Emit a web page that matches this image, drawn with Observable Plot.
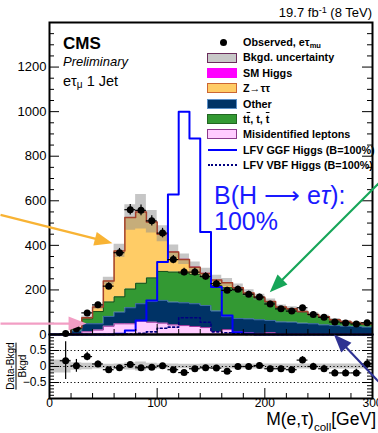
<!DOCTYPE html>
<html><head><meta charset="utf-8">
<script src="https://cdn.jsdelivr.net/npm/d3@7"></script>
<script src="https://cdn.jsdelivr.net/npm/@observablehq/plot@0.6"></script>
<style>
html,body{margin:0;padding:0;background:#fff;}
#wrap{position:relative;width:378px;height:433px;overflow:hidden;font-family:"Liberation Sans",Arial,Helvetica,sans-serif;color:#000;}
#wrap svg{position:absolute;left:0;overflow:visible;background:transparent;}
.t{position:absolute;white-space:nowrap;line-height:1;}
.ov{text-decoration:overline;}
sub.s{font-size:0.7em;position:relative;top:0.25em;line-height:0;vertical-align:baseline;}
sup.s{font-size:0.7em;position:relative;top:-0.45em;line-height:0;vertical-align:baseline;}
.sw{position:absolute;box-sizing:border-box;}
</style></head><body><div id="wrap"></div>
<script>
// ---------------- data ----------------
const binLow = [0,10,20,30,40,50,60,70,80,90,100,110,120,130,140,150,160,170,180,190,200,210,220,230,240,250,260,270,280,290];
const binWidth = 10;
const observed = [null,4,26,97,133,217,367,560,557,510,455,336,280,280,261,228,198,203,181,168,137,115,105,120,90,77,56,52,47,53];
const misid   = [0,0.5,4,12,20,37,48,48,60,55,51,43,40,36,31,13,22,13,7,5,8,4,3,3,3,2,2,2,2,2];
const other   = [0.3,1.5,12,36,28,44,52,72,78,93,102,102,102,102,99,92,58,59,63,61,55,52,52,47,45,41,38,35,34,31];
const ttbar   = [0.2,1,12,22,55,65,69,84,92,106,130,135,133,132,128,115,130,126,110,98,83,65,58,51,40,35,24,19,14,13];
const ztautau = [0,0.5,2,5,20,94,206,321,320,251,167,90,61,32,16,25,22,12,6,3,2,2,2,2,2,2,2,2,2,1];
const smHiggs = [0,0,0,0,0,0,0,0,1,1,2,2,2,2,1,1,1,0,0,0,0,0,0,0,0,0,0,0,0,0];
const bkgUncRel = [0.2,0.2,0.12,0.1,0.08,0.07,0.08,0.11,0.14,0.1,0.08,0.08,0.07,0.07,0.08,0.08,0.08,0.08,0.08,0.08,0.08,0.08,0.08,0.08,0.08,0.08,0.08,0.08,0.08,0.08];
const ratioObs = [null,0.18,0.02,0.31,0.08,-0.1,-0.04,0.06,-0.04,-0.02,0.02,-0.1,-0.19,-0.07,-0.04,-0.05,-0.15,0.0,0.0,0.03,-0.07,-0.07,-0.1,0.2,0.0,-0.07,-0.2,-0.2,-0.2,0.08];
const lfvGGF = [0,0,0,0,0,0,3,18,63,153,325,628,1000,880,460,213,85,10,3,0,0,0,0,0,0,0,0,0,0,0];
const lfvVBF = [0,0,0,0,0,0,0,2,5,12,28,33,75,75,55,12,8,3,0,0,0,0,0,0,0,0,0,0,0,0];
const yTicks = [0,200,400,600,800,1000,1200];
const xTicks = [0,100,200,300];
const ratioTicks = [0.5,0,-0.5];
const legendLabels = ["Observed, e\u03C4<sub class=s>mu</sub>","Bkgd. uncertainty","SM Higgs","Z\u2192\u03C4\u03C4","Other","t<span class=ov>t</span>, t, <span class=ov>t</span>","Misidentified leptons","LFV GGF Higgs (B=100%)","LFV VBF Higgs (B=100%)"];
// annotation arrows in data units
const arrowsMain = [
  {x1:-45.5, y1:537, x2:58.5, y2:410, color:"#f8b334"},
  {x1:-45.5, y1:49, x2:34.4, y2:49, color:"#f29ec4"},
  {x1:305.6, y1:678, x2:204.6, y2:190, color:"#16a558"}
];
const arrowsRatio = [
  {x1:305.6, y1:-0.47, x2:264.2, y2:1.0, color:"#2e3192"}
];

// ---------------- layout ----------------
const FONT = '"Liberation Sans", Arial, Helvetica, sans-serif';
const W = 378, ML = 49, MR = 6;
const mainH = 336, mainTop = 22, mainMB = 2;
const ratTop = 330, ratH = 103, ratMT = 4, ratMB = 35;
const frameW = W - ML - MR;
const mainFH = mainH - mainTop - mainMB;
const ratFH = ratH - ratMT - ratMB;
const kxM = frameW / 300, kyM = mainFH / 1400, kyR = ratFH / 2;

const colors = {misid:"#ffccff", other:"#003366", tt:"#339933", ztt:"#ffcc66", smh:"#ff00ff"};
const lines = {misid:"#993399", other:"#3d6fa3", tt:"#1b4d1b", ztt:"#a3402b", smh:"#ff00ff"};

const lastEdge = binLow[binLow.length-1] + binWidth;
function steps(lo, hi){
  const pts = binLow.map((x,i)=>({x, y1: lo[i], y2: hi[i]}));
  pts.push({x: lastEdge, y1: lo[lo.length-1], y2: hi[hi.length-1]});
  return pts;
}
const comps = [["misid",misid],["other",other],["tt",ttbar],["ztt",ztautau],["smh",smHiggs]];
let base = binLow.map(()=>0);
const layers = comps.map(([k, arr]) => { const lo = base; const hi = base.map((b,i)=>b+arr[i]); base = hi; return {k, pts: steps(lo, hi)}; });
const total = base;
const bandPts = steps(total.map((t,i)=>t*(1-bkgUncRel[i])), total.map((t,i)=>t*(1+bkgUncRel[i])));
const zeros = binLow.map(()=>0);
const ggfPts = steps(zeros, lfvGGF);
const vbfPts = steps(zeros, lfvVBF);
const obsPts = binLow.map((lo,i)=>({lo, hi: lo+binWidth, c: lo+binWidth/2, obs: observed[i], r: ratioObs[i]})).filter(d=>d.obs!=null);
const ratioBand = steps(bkgUncRel.map(u=>-u), bkgUncRel);

const headSym = {draw(ctx){ ctx.moveTo(0,0); ctx.lineTo(-7,18); ctx.lineTo(7,18); ctx.closePath(); }};
function arrowMarks(list, kx, ky){
  const out = [];
  for (const a of list){
    const dxp = (a.x2-a.x1)*kx, dyp = -(a.y2-a.y1)*ky;
    const L = Math.hypot(dxp, dyp), ux = dxp/L, uy = dyp/L;
    const ang = Math.atan2(dxp, -dyp)*180/Math.PI;
    const ex = a.x2 - ux*12/kx, ey = a.y2 + uy*12/ky;
    out.push(Plot.link([a], {x1:"x1", y1:"y1", x2:()=>ex, y2:()=>ey, stroke:a.color, strokeWidth:2.2}));
    out.push(Plot.dot([a], {x:"x2", y:"y2", symbol: headSym, rotate: ang, fill:a.color, stroke:"none"}));
  }
  return out;
}
function minorTicks(lo, hi, step, majors){
  return d3.range(lo, hi+step/2, step).map(v=>+v.toFixed(6)).filter(v=>!majors.some(m=>Math.abs(m-v)<1e-9));
}

const wrap = document.getElementById("wrap");

// ---------------- main panel ----------------
const yMinor = minorTicks(0, 1400, 50, [...yTicks,1400]);
const xMinor = minorTicks(0, 300, 20, xTicks);
const main = Plot.plot({
  width: W, height: mainH, marginLeft: ML, marginRight: MR, marginTop: mainTop, marginBottom: mainMB,
  x: {domain:[0,300], axis:null},
  y: {domain:[0,1400]},
  style: {background:"transparent", overflow:"visible", fontFamily: FONT, color:"black"},
  marks: [
    ...layers.map(l => Plot.areaY(l.pts, {x:"x", y1:"y1", y2:"y2", curve:"step-after", fill: colors[l.k]})),
    Plot.areaY(bandPts, {x:"x", y1:"y1", y2:"y2", curve:"step-after", fill:"#8e8e8e", fillOpacity:0.5}),
    ...layers.slice(0,4).map(l => Plot.line(l.pts, {x:"x", y:"y2", curve:"step-after", stroke: lines[l.k], strokeWidth: l.k==="ztt"?1.5:1})),
    Plot.line(vbfPts, {x:"x", y:"y2", curve:"step-after", stroke:"#000080", strokeWidth:1.6, strokeDasharray:"2,2.5"}),
    Plot.line(ggfPts, {x:"x", y:"y2", curve:"step-after", stroke:"#0000ff", strokeWidth:2}),
    Plot.ruleY(obsPts, {y:"obs", x1:"lo", x2:"hi", stroke:"black", strokeWidth:1.2}),
    Plot.ruleX(obsPts, {x:"c", y1:d=>d.obs-Math.sqrt(d.obs), y2:d=>d.obs+Math.sqrt(d.obs), stroke:"black", strokeWidth:1.2}),
    Plot.dot(obsPts, {x:"c", y:"obs", r:3.5, fill:"black"}),
    Plot.tickY(yTicks, {y:d=>d, insetRight: frameW-10, stroke:"black"}),
    Plot.tickY(yMinor, {y:d=>d, insetRight: frameW-5, stroke:"black"}),
    Plot.tickY(yTicks, {y:d=>d, insetLeft: frameW-10, stroke:"black"}),
    Plot.tickY(yMinor, {y:d=>d, insetLeft: frameW-5, stroke:"black"}),
    Plot.tickX(xTicks, {x:d=>d, insetTop: mainFH-10, stroke:"black"}),
    Plot.tickX(xMinor, {x:d=>d, insetTop: mainFH-5, stroke:"black"}),
    Plot.axisY({ticks: yTicks, tickSize:0, tickPadding:3, fontSize:13, label:null, anchor:"left", tickFormat: d => String(d)}),
    Plot.frame({stroke:"black", strokeWidth:2}),
    ...arrowMarks(arrowsMain, kxM, kyM)
  ]
});
main.style.top = "0px";
wrap.appendChild(main);

// ---------------- ratio panel ----------------
const rMajor = [-1,-0.5,0,0.5,1];
const rMinor = minorTicks(-1, 1, 0.1, rMajor);
const fmtR = d => d===0 ? "0" : (d<0 ? "\u2212" : "") + Math.abs(d);
const ratio = Plot.plot({
  width: W, height: ratH, marginLeft: ML, marginRight: MR, marginTop: ratMT, marginBottom: ratMB,
  x: {domain:[0,300]},
  y: {domain:[-1,1]},
  style: {background:"transparent", overflow:"visible", fontFamily: FONT, color:"black"},
  marks: [
    Plot.areaY(ratioBand, {x:"x", y1:"y1", y2:"y2", curve:"step-after", fill:"#c8c8c8"}),
    Plot.ruleY(ratioTicks, {y:d=>d, stroke:"black", strokeWidth:1, strokeDasharray:"1.2,2.4"}),
    Plot.ruleY(obsPts, {y:"r", x1:"lo", x2:"hi", stroke:"black", strokeWidth:1.2}),
    Plot.ruleX(obsPts, {x:"c", y1:d=>d.r-(1+d.r)/Math.sqrt(d.obs), y2:d=>d.r+(1+d.r)/Math.sqrt(d.obs), stroke:"black", strokeWidth:1.2}),
    Plot.dot(obsPts, {x:"c", y:"r", r:3.5, fill:"black"}),
    Plot.tickY(rMajor, {y:d=>d, insetRight: frameW-10, stroke:"black"}),
    Plot.tickY(rMinor, {y:d=>d, insetRight: frameW-5, stroke:"black"}),
    Plot.tickY(rMajor, {y:d=>d, insetLeft: frameW-10, stroke:"black"}),
    Plot.tickY(rMinor, {y:d=>d, insetLeft: frameW-5, stroke:"black"}),
    Plot.tickX(xTicks, {x:d=>d, insetTop: ratFH-10, stroke:"black"}),
    Plot.tickX(xMinor, {x:d=>d, insetTop: ratFH-5, stroke:"black"}),
    Plot.axisY({ticks: ratioTicks, tickSize:0, tickPadding:3, fontSize:12, label:null, anchor:"left", tickFormat: fmtR}),
    Plot.axisX({ticks: xTicks, tickSize:0, tickPadding:0, fontSize:12, label:null, anchor:"bottom", tickFormat: d => String(d)}),
    Plot.frame({stroke:"black", strokeWidth:2}),
    ...arrowMarks(arrowsRatio, kxM, kyR)
  ]
});
ratio.style.top = ratTop + "px";
wrap.appendChild(ratio);

// ---------------- texts ----------------
function addText(html, opts){
  const d = document.createElement("div");
  d.className = "t"; d.innerHTML = html;
  const fs = opts.fs;
  const lh = opts.lh ?? 1;
  d.style.fontSize = fs + "px";
  d.style.lineHeight = String(lh);
  d.style.top = (opts.base - (0.8465 - (1-lh)/2)*fs) + "px";
  if (opts.right != null) d.style.right = opts.right + "px"; else d.style.left = opts.left + "px";
  if (opts.weight) d.style.fontWeight = opts.weight;
  if (opts.italic) d.style.fontStyle = "italic";
  if (opts.color) d.style.color = opts.color;
  wrap.appendChild(d);
  return d;
}
addText("19.7 fb<sup class=s>-1</sup> (8 TeV)", {fs:13, base:16.7, right:6});
addText("CMS", {fs:17, base:49, left:63, weight:"bold"});
addText("Preliminary", {fs:13, base:65.7, left:63, italic:true});
addText("e\u03C4<sub class=s>\u03BC</sub> 1 Jet", {fs:14.5, base:86, left:63});
addText("B(H \u27F6 e<i>\u03C4</i>):", {fs:25, base:204, left:214, color:"#1a1aff"});
addText("100%", {fs:25, base:230, left:214, color:"#1a1aff"});
addText("M(e,\u03C4)<sub class=s style='font-size:0.66em;top:0.5em'>coll</sub>[GeV]", {fs:17.5, base:425.5, right:2, lh:0.72});

// ratio y label (fraction)
const fr = document.createElement("div");
fr.style.cssText = "position:absolute;left:16px;top:366px;transform:translate(-50%,-50%) rotate(-90deg);text-align:center;font-size:10px;line-height:9px;white-space:nowrap;";
fr.innerHTML = "<div style='border-bottom:1px solid #000;padding:0 0 1px 0'>Data-Bkgd</div><div style='padding-top:1px'>Bkgd</div>";
wrap.appendChild(fr);

// legend
const swatches = [
  {type:"dot"},
  {type:"box", fill:"#c8c8c8", border:"#6b2d5c"},
  {type:"box", fill:"#ff00ff", border:"#ff00ff"},
  {type:"box", fill:colors.ztt, border:"#cc6633"},
  {type:"box", fill:colors.other, border:"#5b8fc7"},
  {type:"box", fill:colors.tt, border:"#226622"},
  {type:"box", fill:colors.misid, border:"#8b3a8b"},
  {type:"line", color:"#0000ff", style:"solid"},
  {type:"line", color:"#000080", style:"dotted"}
];
legendLabels.forEach((lab, i) => {
  const cy = 42.3 + 15.34*i;
  const s = swatches[i];
  const e = document.createElement("div");
  e.className = "sw";
  if (s.type === "dot"){
    e.style.cssText += `left:${223-3.5}px;top:${cy-3.5}px;width:7px;height:7px;border-radius:50%;background:#000;`;
  } else if (s.type === "box"){
    e.style.cssText += `left:207px;top:${cy-5}px;width:30px;height:10px;background:${s.fill};border:1.2px solid ${s.border};`;
  } else {
    e.style.cssText += `left:208px;top:${cy-1}px;width:29px;height:0;border-top:2px ${s.style} ${s.color};`;
  }
  wrap.appendChild(e);
  addText(lab, {fs:10.8, base: cy+4, left:243, weight:"bold"});
});
</script>
</body></html>
